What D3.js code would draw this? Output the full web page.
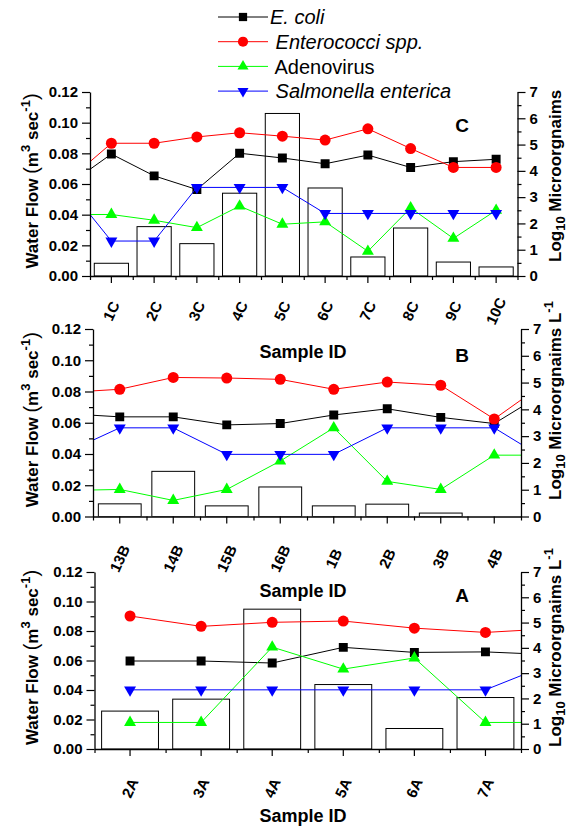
<!DOCTYPE html>
<html>
<head>
<meta charset="utf-8">
<script src="https://cdn.jsdelivr.net/npm/d3@7"></script>
<style>
body { margin: 0; background: #fff; }
text { font-family: "Liberation Sans", Arial, sans-serif; }
</style>
</head>
<body>
<script>
// legend / series
var seriesNames = ["E. coli", " Enterococci spp.", " Adenovirus", " Salmonella enterica"];
var seriesItalic = [true, true, false, true];

// panel C
var cSamples = ["1C","2C","3C","4C","5C","6C","7C","8C","9C","10C"];
var cFlow = [0.0083, 0.0322, 0.0211, 0.054, 0.106, 0.0574, 0.0124, 0.0313, 0.0091, 0.0059];
var cEcoli = [4.64, 3.81, 3.29, 4.67, 4.49, 4.27, 4.60, 4.13, 4.35, 4.44];
var cEntero = [5.05, 5.05, 5.29, 5.45, 5.32, 5.17, 5.60, 4.85, 4.13, 4.13];
var cAdeno = [2.34, 2.12, 1.84, 2.66, 1.97, 2.06, 0.94, 2.59, 1.43, 2.50];
var cSalm = [1.33, 1.33, 3.37, 3.37, 3.37, 2.38, 2.38, 2.38, 2.38, 2.38];
// values where the lines cross the plot edges (continuation from neighbouring samples)
var cLeftEdge = [4.06, 4.35, 2.34, 2.34];
var cRightEdge = [null, null, null, null];

// panel B
var bSamples = ["13B","14B","15B","16B","1B","2B","3B","4B"];
var bFlow = [0.0081, 0.0289, 0.0068, 0.0189, 0.0068, 0.0079, 0.0022, 0];
var bEcoli = [3.72, 3.72, 3.42, 3.47, 3.79, 4.02, 3.70, 3.47];
var bEntero = [4.75, 5.19, 5.17, 5.12, 4.75, 5.02, 4.90, 3.64];
var bAdeno = [1.01, 0.60, 1.01, 2.07, 3.31, 1.31, 1.01, 2.29];
var bSalm = [3.31, 3.31, 2.32, 2.32, 2.32, 3.31, 3.31, 3.31];
var bLeftEdge = [3.78, 4.69, 0.99, 2.85];
var bRightEdge = [4.08, 4.35, 2.29, 2.70];

// panel A
var aSamples = ["2A","3A","4A","5A","6A","7A"];
var aFlow = [0.0257, 0.0338, 0.0948, 0.0437, 0.0139, 0.0349];
var aEcoli = [3.48, 3.48, 3.40, 4.02, 3.82, 3.84];
var aEntero = [5.26, 4.85, 5.01, 5.06, 4.78, 4.61];
var aAdeno = [1.05, 1.05, 4.03, 3.16, 3.60, 1.05];
var aSalm = [2.34, 2.34, 2.34, 2.34, 2.34, 2.34];
var aLeftEdge = [null, null, null, null];
var aRightEdge = [3.78, 4.69, 1.05, 2.90];

var flowTicks = [0, 0.02, 0.04, 0.06, 0.08, 0.10, 0.12];
var logTicks = [0, 1, 2, 3, 4, 5, 6, 7];

var colors = ["#000000", "#ff0000", "#00ff00", "#0000ff"];
var symbols = [d3.symbolSquare, d3.symbolCircle, d3.symbolTriangle, d3.symbolTriangle];
var symSize = [80, 95, 62, 62];
var symRot = [0, 0, 0, 180];

var width = 568, height = 829;

var svg = d3.select("body").append("svg")
    .attr("width", width)
    .attr("height", height);

var panels = [
  {name:"C", samples:cSamples, flow:cFlow, series:[cEcoli,cEntero,cAdeno,cSalm], leftEdge:cLeftEdge, rightEdge:cRightEdge,
   x0:90, x1:517.5, top:92, bottom:276, labOff:35, letterY:132, titleY:358, rStart:262, showL:false},
  {name:"B", samples:bSamples, flow:bFlow, series:[bEcoli,bEntero,bAdeno,bSalm], leftEdge:bLeftEdge, rightEdge:bRightEdge,
   x0:93, x1:521, top:329, bottom:516.5, labOff:42, letterY:362, titleY:597, rStart:500, showL:true},
  {name:"A", samples:aSamples, flow:aFlow, series:[aEcoli,aEntero,aAdeno,aSalm], leftEdge:aLeftEdge, rightEdge:aRightEdge,
   x0:94.5, x1:521, top:572, bottom:749, labOff:39, letterY:602, titleY:822, rStart:747, showL:true}
];

panels.forEach(function(p, pi) {
  var x = d3.scaleBand().domain(p.samples).range([p.x0, p.x1]).paddingInner(0.2).paddingOuter(0.1);
  var xb = d3.scaleLinear().domain([0, p.samples.length]).range([p.x0, p.x1]);
  var yL = d3.scaleLinear().domain([0, 0.12]).range([p.bottom, p.top]);
  var yR = d3.scaleLinear().domain([0, 7]).range([p.bottom, p.top]);
  var bw = x.bandwidth();
  var g = svg.append("g");

  svg.append("clipPath").attr("id", "clip" + pi)
    .append("rect").attr("x", p.x0).attr("y", p.top - 8)
    .attr("width", p.x1 - p.x0).attr("height", p.bottom - p.top + 8);

  var plot = g.append("g").attr("clip-path", "url(#clip" + pi + ")");

  // bars: water flow
  plot.selectAll("rect.bar")
    .data(p.flow.map(function(v, i) { return {s: p.samples[i], v: v}; }).filter(function(d) { return d.v > 0; }))
    .enter().append("rect")
    .attr("class", "bar")
    .attr("x", function(d) { return x(d.s); })
    .attr("y", function(d) { return yL(d.v); })
    .attr("width", bw)
    .attr("height", function(d) { return yL(0) - yL(d.v); })
    .attr("fill", "#fff")
    .attr("stroke", "#000")
    .attr("stroke-width", 1);

  // lines + markers
  p.series.forEach(function(vals, k) {
    var pts = vals.map(function(v, i) { return [x(p.samples[i]) + bw / 2, yR(v)]; });
    var linePts = pts.slice();
    if (p.leftEdge[k] != null) linePts.unshift([x.range()[0], yR(p.leftEdge[k])]);
    if (p.rightEdge[k] != null) linePts.push([x.range()[1], yR(p.rightEdge[k])]);
    plot.append("path")
      .attr("d", d3.line()(linePts))
      .attr("fill", "none")
      .attr("stroke", colors[k])
      .attr("stroke-width", 1);
    plot.selectAll("path.m" + k)
      .data(pts)
      .enter().append("path")
      .attr("class", "m" + k)
      .attr("d", d3.symbol().type(symbols[k]).size(symSize[k]))
      .attr("transform", function(d) { return "translate(" + d[0] + "," + d[1] + ") rotate(" + symRot[k] + ")"; })
      .attr("fill", colors[k]);
  });

  // axes
  var axL = g.append("g").attr("transform", "translate(" + p.x0 + ",0)")
    .call(d3.axisLeft(yL).tickValues(flowTicks).tickSize(8).tickSizeOuter(0).tickPadding(4).tickFormat(d3.format(".2f")));
  g.append("g").attr("transform", "translate(" + p.x0 + ",0)")
    .call(d3.axisLeft(yL).tickValues(d3.range(0.01, 0.12, 0.02)).tickSize(4).tickFormat(""))
    .select(".domain").remove();

  var axR = g.append("g").attr("transform", "translate(" + p.x1 + ",0)")
    .call(d3.axisRight(yR).tickValues(logTicks).tickSize(8).tickSizeOuter(0).tickPadding(4).tickFormat(d3.format("d")));
  g.append("g").attr("transform", "translate(" + p.x1 + ",0)")
    .call(d3.axisRight(yR).tickValues(d3.range(0.5, 7, 1)).tickSize(4).tickFormat(""))
    .select(".domain").remove();

  var axB = g.append("g").attr("transform", "translate(0," + p.bottom + ")")
    .call(d3.axisBottom(x).tickSize(7).tickSizeOuter(0).tickPadding(0));
  g.append("g").attr("transform", "translate(0," + p.bottom + ")")
    .call(d3.axisBottom(xb).tickValues(d3.range(0, p.samples.length + 1)).tickSize(4).tickFormat(""))
    .select(".domain").remove();

  g.selectAll(".domain").attr("stroke-width", 1.3);
  g.selectAll(".tick line").attr("stroke-width", 1.2);
  [axL, axR].forEach(function(a) {
    a.selectAll("text").attr("font-size", 15).attr("font-weight", "bold").attr("fill", "#000")
      .style("font-family", "'Liberation Sans', Arial, sans-serif");
  });
  axB.selectAll("text")
    .attr("font-size", 15).attr("font-weight", "bold").attr("fill", "#000")
    .style("font-family", "'Liberation Sans', Arial, sans-serif")
    .attr("y", 0).attr("dy", "0.35em")
    .attr("text-anchor", "middle")
    .attr("transform", "translate(0," + p.labOff + ") rotate(-65)");

  // panel letter
  g.append("text").attr("x", 462).attr("y", p.letterY)
    .attr("text-anchor", "middle").attr("font-size", 19).attr("font-weight", "bold")
    .text(p.name);

  // x title
  g.append("text").attr("x", 303).attr("y", p.titleY)
    .attr("text-anchor", "middle").attr("font-size", 18).attr("font-weight", "bold")
    .text("Sample ID");

  // left y title
  var lt = g.append("text")
    .attr("transform", "translate(38," + ((p.top + p.bottom) / 2 - 3) + ") rotate(-90)")
    .attr("text-anchor", "middle").attr("font-size", 17).attr("font-weight", "bold");
  lt.append("tspan").text("Water Flow ");
  lt.append("tspan").attr("font-size", 20).attr("font-weight", "normal").text("(");
  lt.append("tspan").text("m");
  lt.append("tspan").attr("font-size", 13).attr("dy", -8).text("3");
  lt.append("tspan").attr("dy", 8).text(" sec");
  lt.append("tspan").attr("font-size", 13).attr("dy", -8).text("-1");
  lt.append("tspan").attr("dy", 8).attr("font-size", 20).attr("font-weight", "normal").text(")");

  // right y title
  var rt = g.append("text")
    .attr("transform", "translate(561," + p.rStart + ") rotate(-90)")
    .attr("text-anchor", "start").attr("font-size", 17).attr("font-weight", "bold");
  rt.append("tspan").text("Log");
  rt.append("tspan").attr("font-size", 13).attr("dy", 4).text("10");
  rt.append("tspan").attr("dy", -4).text(" Microorgnaims");
  if (p.showL) {
    rt.append("tspan").text(" L");
    rt.append("tspan").attr("font-size", 13).attr("dy", -8).text("-1");
  }
});

// legend
var legend = svg.append("g");
seriesNames.forEach(function(name, k) {
  var cy = 17 + k * 24.7;
  legend.append("line").attr("x1", 218).attr("x2", 268).attr("y1", cy).attr("y2", cy)
    .attr("stroke", colors[k]).attr("stroke-width", 1);
  legend.append("path")
    .attr("d", d3.symbol().type(symbols[k]).size(symSize[k] * 0.85))
    .attr("transform", "translate(243," + cy + ") rotate(" + symRot[k] + ")")
    .attr("fill", colors[k]);
  legend.append("text").attr("x", 270).attr("y", cy).attr("dy", "0.36em")
    .attr("font-size", 20)
    .attr("font-style", seriesItalic[k] ? "italic" : "normal")
    .style("white-space", "pre")
    .text(name);
});
</script>
</body>
</html>
